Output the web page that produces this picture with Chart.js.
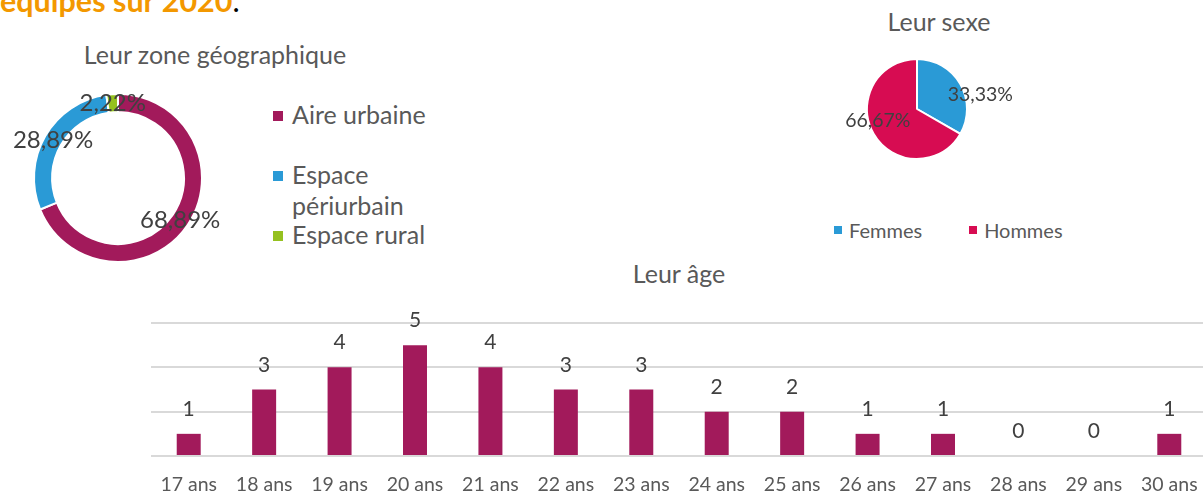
<!DOCTYPE html>
<html><head><meta charset="utf-8">
<script src="https://cdn.jsdelivr.net/npm/chart.js@4.4.1/dist/chart.umd.min.js"></script>
<style>
html,body{margin:0;padding:0;background:#fff;}
body{width:1203px;height:492px;overflow:hidden;position:relative;font-family:Lato,sans-serif;}
canvas{position:absolute;display:block;}
#head{position:absolute;left:0;top:-14.6px;font-size:30.5px;font-weight:700;line-height:30px;color:#f39800;white-space:nowrap;}
#head span{color:#000;font-weight:400;}
.title{position:absolute;font-size:25px;line-height:25px;color:#595959;white-space:nowrap;transform:translateX(-50%);}
#zoneLegend{position:absolute;left:273px;top:98.8px;}
#zoneLegend .item{position:absolute;left:0;width:170px;padding-left:19px;box-sizing:border-box;font-size:25px;line-height:31px;color:#595959;}
#zoneLegend .mk{position:absolute;left:0;top:12px;width:10px;height:10px;}
#sexLegend{position:absolute;left:834px;top:218.3px;display:flex;gap:47px;}
#sexLegend .item{position:relative;padding-left:15px;font-size:20px;line-height:24px;color:#595959;white-space:nowrap;}
#sexLegend .mk{position:absolute;left:0;top:8px;width:8px;height:8px;}
</style>
</head>
<body>
<div id="head">équipés sur 2020<span>.</span></div>
<div class="title" style="left:215px;top:41.8px;">Leur zone géographique</div>
<div class="title" style="left:939px;top:9.3px;">Leur sexe</div>
<div class="title" style="left:679px;top:260.8px;">Leur âge</div>
<canvas id="zone" width="240" height="200" style="left:0;top:80px;"></canvas>
<div id="zoneLegend"></div>
<canvas id="sex" width="220" height="120" style="left:820px;top:50px;"></canvas>
<div id="sexLegend"></div>
<canvas id="age" width="1215" height="202" style="left:0;top:290px;"></canvas>
<script>
// ---- data ----
const zoneLabels = ['Aire urbaine', 'Espace périurbain', 'Espace rural'];
const zoneValues = [68.89, 28.89, 2.22];
const zoneColors = ['#a21a5b', '#2a9ad6', '#95c11f'];

const sexLabels = ['Femmes', 'Hommes'];
const sexValues = [33.33, 66.67];
const sexColors = ['#2a9ad6', '#d70c52'];

const ageLabels = ['17 ans','18 ans','19 ans','20 ans','21 ans','22 ans','23 ans','24 ans','25 ans','26 ans','27 ans','28 ans','29 ans','30 ans'];
const ageValues = [1, 3, 4, 5, 4, 3, 3, 2, 2, 1, 1, 0, 0, 1];
const ageColor = '#a21a5b';

// ---- helpers ----
Chart.defaults.font.family = 'Lato, sans-serif';
const fmtPct = v => v.toFixed(2).replace('.', ',') + '%';

function makeArcLabels(cfg) {
  return {
    id: 'arcLabels',
    afterDatasetsDraw(chart) {
      const ctx = chart.ctx;
      const meta = chart.getDatasetMeta(0);
      const vals = chart.data.datasets[0].data;
      ctx.save();
      ctx.font = cfg.font;
      ctx.fillStyle = cfg.color;
      ctx.textAlign = 'center';
      ctx.textBaseline = 'middle';
      meta.data.forEach((arc, i) => {
        const p = arc.getProps(['x','y','startAngle','endAngle','innerRadius','outerRadius'], true);
        const shift = cfg.shift ? cfg.shift[i] * Math.PI / 180 : 0;
        const a = (p.startAngle + p.endAngle) / 2 + shift;
        const r = cfg.radius ? p.outerRadius * cfg.radius[i] : (p.innerRadius + p.outerRadius) / 2;
        ctx.fillText(fmtPct(vals[i]), p.x + Math.cos(a) * r, p.y + Math.sin(a) * r);
      });
      ctx.restore();
    }
  };
}

const barLabels = {
  id: 'barLabels',
  afterDatasetsDraw(chart) {
    const ctx = chart.ctx;
    const meta = chart.getDatasetMeta(0);
    const vals = chart.data.datasets[0].data;
    ctx.save();
    ctx.font = '21px Lato, sans-serif';
    ctx.fillStyle = '#404040';
    ctx.textAlign = 'center';
    ctx.textBaseline = 'alphabetic';
    meta.data.forEach((bar, i) => {
      ctx.fillText(String(vals[i]), bar.x, bar.y - 18);
    });
    ctx.restore();
  }
};

// ---- zone doughnut ----
new Chart(document.getElementById('zone'), {
  type: 'doughnut',
  data: { labels: zoneLabels, datasets: [{ data: zoneValues, backgroundColor: zoneColors, borderColor: '#ffffff', borderWidth: 2 }] },
  options: {
    responsive: false, animation: false, events: [],
    cutout: '78.5%',
    layout: { padding: { left: 33, right: 37, top: 13, bottom: 17 } },
    plugins: { legend: { display: false }, tooltip: { enabled: false } }
  },
  plugins: [makeArcLabels({ font: '24px Lato, sans-serif', color: '#404040' })]
});

const zl = document.getElementById('zoneLegend');
zoneLabels.forEach((lab, i) => {
  const it = document.createElement('div');
  it.className = 'item';
  it.style.top = (i * 60) + 'px';
  const mk = document.createElement('div');
  mk.className = 'mk';
  mk.style.background = zoneColors[i];
  const tx = document.createElement('div');
  tx.style.width = '150px';
  tx.textContent = lab;
  it.appendChild(mk); it.appendChild(tx);
  zl.appendChild(it);
});

// ---- sex pie ----
new Chart(document.getElementById('sex'), {
  type: 'pie',
  data: { labels: sexLabels, datasets: [{ data: sexValues, backgroundColor: sexColors, borderColor: '#ffffff', borderWidth: 2 }] },
  options: {
    responsive: false, animation: false, events: [],
    layout: { padding: { left: 46, right: 72, top: 8, bottom: 10 } },
    plugins: { legend: { display: false }, tooltip: { enabled: false } }
  },
  plugins: [makeArcLabels({ font: '19.5px Lato, sans-serif', color: '#404040', radius: [1.3, 0.82], shift: [17, 13] })]
});

const sl = document.getElementById('sexLegend');
sexLabels.forEach((lab, i) => {
  const it = document.createElement('div');
  it.className = 'item';
  const mk = document.createElement('div');
  mk.className = 'mk';
  mk.style.background = sexColors[i];
  it.appendChild(mk);
  it.appendChild(document.createTextNode(lab));
  sl.appendChild(it);
});

// ---- age bars ----
new Chart(document.getElementById('age'), {
  type: 'bar',
  data: { labels: ageLabels, datasets: [{ data: ageValues, backgroundColor: ageColor, barPercentage: 0.318, categoryPercentage: 1 }] },
  options: {
    responsive: false, animation: false, events: [],
    layout: { padding: { left: 151, right: 8, top: 33, bottom: 0 } },
    plugins: { legend: { display: false }, tooltip: { enabled: false } },
    scales: {
      x: {
        grid: { display: false, drawTicks: false },
        border: { display: false },
        ticks: { color: '#595959', font: { size: 19.5 }, padding: 17, maxRotation: 0, autoSkip: false },
        afterFit: s => { s.height = 36; }
      },
      y: {
        min: 0, max: 6,
        ticks: { display: false, stepSize: 2 },
        grid: { color: '#d9d9d9', lineWidth: 2, drawTicks: false },
        border: { display: false },
        afterFit: s => { s.width = 0; }
      }
    }
  },
  plugins: [barLabels]
});
</script>
</body></html>
